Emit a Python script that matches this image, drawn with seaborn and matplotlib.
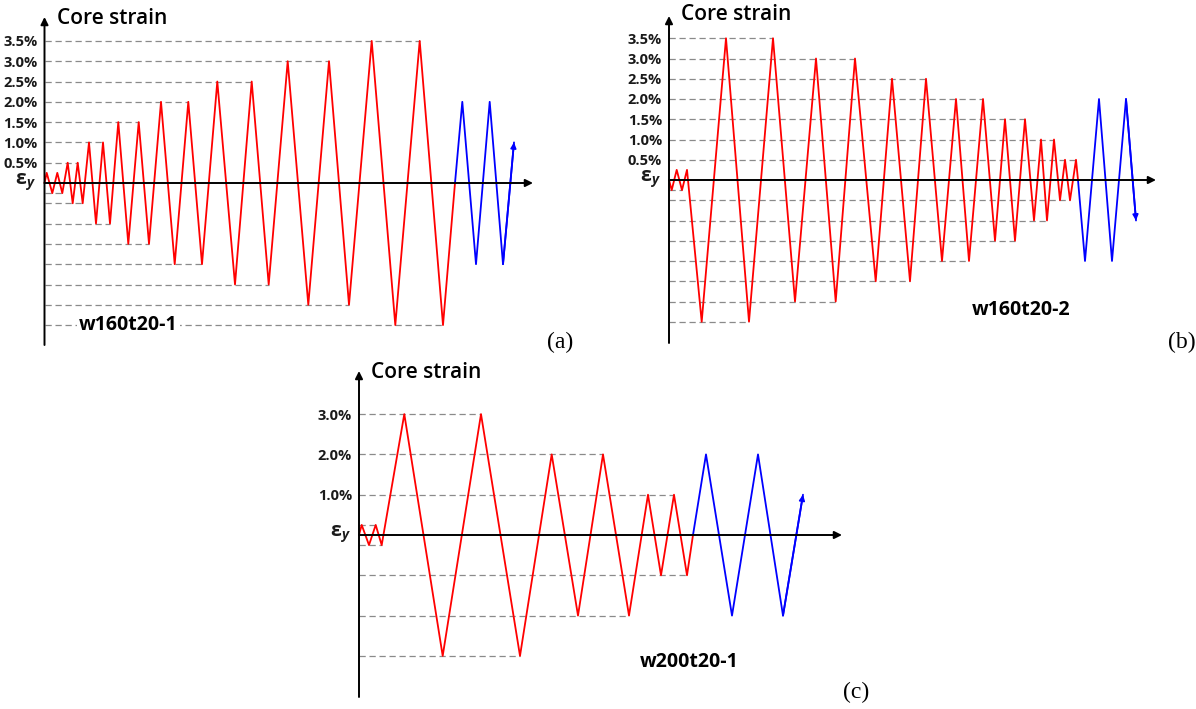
import matplotlib
matplotlib.use("Agg")
import matplotlib.pyplot as plt
import seaborn as sns

W, H = 1196, 709

# ---------------- data ----------------
# strain levels are in %, the yield-strain cycles are drawn at EPS_Y
EPS_Y = 0.25

# (a) w160t20-1
a_red_t = [0, 2.2, 7.8, 12.8, 17.8, 23.2, 28.2, 33.2, 38.2, 44.5, 51.5, 58.5, 65.5,
           73.8, 83.8, 94.2, 104.5, 116.5, 130.2, 143.8, 157.5, 172.8, 190.5, 207.2,
           224.2, 243.2, 263.8, 284.5, 304.5, 327.2, 350.8, 375.2, 398.5, 410.5]
a_red_s = [0, 0.25, -0.25, 0.25, -0.25, 0.5, -0.5, 0.5, -0.5, 1.0, -1.0, 1.0, -1.0,
           1.5, -1.5, 1.5, -1.5, 2.0, -2.0, 2.0, -2.0, 2.5, -2.5, 2.5, -2.5,
           3.0, -3.0, 3.0, -3.0, 3.5, -3.5, 3.5, -3.5, 0]
a_blue_t = [410.5, 417.8, 431.5, 445.2, 458.5, 469.5]
a_blue_s = [0, 2.0, -2.0, 2.0, -2.0, 1.0]

# (b) w160t20-2
b_red_t = [0, 2.7, 7.7, 13, 18, 32.7, 57, 80, 104, 126, 147, 166.7, 186, 206.7, 223,
           241, 257, 273, 287, 300, 314, 326, 336, 346, 356, 365, 372, 378, 385,
           391, 396, 401, 407, 409]
b_red_s = [0, -0.25, 0.25, -0.25, 0.25, -3.5, 3.5, -3.5, 3.5, -3.0, 3.0, -3.0, 3.0,
           -2.5, 2.5, -2.5, 2.5, -2.0, 2.0, -2.0, 2.0, -1.5, 1.5, -1.5, 1.5,
           -1.0, 1.0, -1.0, 1.0, -0.5, 0.5, -0.5, 0.5, 0]
b_blue_t = [409, 416, 430, 443, 457, 467]
b_blue_s = [0, -2.0, 2.0, -2.0, 2.0, -1.0]

# (c) w200t20-1
c_red_t = [0, 2.7, 10, 16.7, 22.7, 45.3, 83.7, 122, 161, 192.7, 219, 244, 270,
           289, 302, 315, 328, 334]
c_red_s = [0, 0.25, -0.25, 0.25, -0.25, 3.0, -3.0, 3.0, -3.0, 2.0, -2.0, 2.0, -2.0,
           1.0, -1.0, 1.0, -1.0, 0]
c_blue_t = [334, 347, 373, 399, 424, 444]
c_blue_s = [0, 2.0, -2.0, 2.0, -2.0, 1.0]

ab_ticks = [0.5, 1.0, 1.5, 2.0, 2.5, 3.0, 3.5]
ab_labels = ["0.5%", "1.0%", "1.5%", "2.0%", "2.5%", "3.0%", "3.5%"]
c_ticks = [1.0, 2.0, 3.0]
c_labels = ["1.0%", "2.0%", "3.0%"]

names = ["w160t20-1", "w160t20-2", "w200t20-1"]
tags = ["(a)", "(b)", "(c)"]
title = "Core strain"

# ---------------- style ----------------
sns.set_theme(style="white")
plt.rcParams["font.family"] = ["Open Sans", "DejaVu Sans"]
plt.rcParams["mathtext.fontset"] = "custom"
plt.rcParams["mathtext.rm"] = "Open Sans"
plt.rcParams["mathtext.it"] = "Open Sans:italic:bold"
plt.rcParams["mathtext.bf"] = "Open Sans:bold"

fig = plt.figure(figsize=(W / 100, H / 100), dpi=100)
fig.patch.set_facecolor("white")

layout = [
    dict(red=(a_red_t, a_red_s), blue=(a_blue_t, a_blue_s), ticks=ab_ticks, labels=ab_labels,
         pos_eps_dash=False, x0=44.5, xtip=533, top=17, bottom=345, zero=183, scale=40.6,
         title_xy=(57, 18), name_xy=(128.5, 325), tag_xy=(560, 342)),
    dict(red=(b_red_t, b_red_s), blue=(b_blue_t, b_blue_s), ticks=ab_ticks, labels=ab_labels,
         pos_eps_dash=False, x0=669, xtip=1156, top=16, bottom=343, zero=180, scale=40.5,
         title_xy=(681, 15), name_xy=(1021, 310), tag_xy=(1182, 342)),
    dict(red=(c_red_t, c_red_s), blue=(c_blue_t, c_blue_s), ticks=c_ticks, labels=c_labels,
         pos_eps_dash=True, x0=359, xtip=842, top=371, bottom=697, zero=535, scale=40.3,
         title_xy=(371, 372), name_xy=(689, 662), tag_xy=(856, 692)),
]

arrow_kw = dict(arrowstyle="-|>", color="black", lw=1.4, mutation_scale=11,
                shrinkA=0, shrinkB=0)

for i, p in enumerate(layout):
    rect = [p["x0"] / W, 1 - p["bottom"] / H, (p["xtip"] - p["x0"]) / W,
            (p["bottom"] - p["top"]) / H]
    ax = fig.add_axes(rect)
    ax.set_facecolor("none")
    ax.set_xlim(0, p["xtip"] - p["x0"])
    ax.set_ylim(-(p["bottom"] - p["zero"]) / p["scale"], (p["zero"] - p["top"]) / p["scale"])
    for sp in ax.spines.values():
        sp.set_visible(False)

    rt, rs = p["red"]
    bt, bs = p["blue"]

    # dashed reference levels: from the axis to the last red peak at that level
    levels = sorted(set(v for v in rs if v != 0))
    for lv in levels:
        if lv == EPS_Y and not p["pos_eps_dash"]:
            continue
        xmax = max(t for t, s in zip(rt, rs) if s == lv)
        ax.hlines(lv, 0, xmax, colors="#8a8a8a", linestyles=(0, (5, 3)), lw=0.9,
                  zorder=1, clip_on=False)

    sns.lineplot(x=rt, y=rs, sort=False, estimator=None, color="#ff0000", lw=1.3,
                 ax=ax, zorder=3)
    sns.lineplot(x=bt, y=bs, sort=False, estimator=None, color="#0000ff", lw=1.3,
                 ax=ax, zorder=3)
    for ln in ax.lines:
        ln.set_clip_on(False)
    # arrow head at the end of the blue history
    ax.annotate("", xy=(bt[-1], bs[-1]), xytext=(bt[-2], bs[-2]),
                arrowprops=dict(arrowstyle="-|>", color="#0000ff", lw=1.3,
                                mutation_scale=8, shrinkA=0, shrinkB=0),
                annotation_clip=False, zorder=4)

    # axes with arrows
    ax.annotate("", xy=(1, 0), xytext=(0, 0), xycoords=ax.get_yaxis_transform(),
                textcoords=ax.get_yaxis_transform(), arrowprops=arrow_kw,
                annotation_clip=False, zorder=5)
    ax.annotate("", xy=(0, 1), xytext=(0, 0), xycoords=ax.get_xaxis_transform(),
                textcoords=ax.get_xaxis_transform(), arrowprops=arrow_kw,
                annotation_clip=False, zorder=5)

    ax.set_xticks([])
    ax.set_yticks(p["ticks"])
    ax.set_yticklabels(p["labels"], fontsize=10.5, fontweight="bold", color="#1a1a1a")
    ax.tick_params(axis="y", length=0, pad=5)
    ax.set_xlabel("")
    ax.set_ylabel("")

    ax.annotate("ε$_y$", xy=(0, EPS_Y * 0.15), xytext=(-6, 0), textcoords="offset points",
                ha="right", va="center", fontsize=14, fontweight="bold",
                color="#1a1a1a", annotation_clip=False)

    tx, ty = p["title_xy"]
    fig.text(tx / W, 1 - ty / H, title, ha="left", va="center", fontsize=15,
             fontweight="semibold", color="black")
    nx, ny = p["name_xy"]
    fig.text(nx / W, 1 - ny / H, names[i], ha="center", va="center", fontsize=14,
             fontweight="bold", color="black", zorder=6,
             bbox=dict(facecolor="white", edgecolor="none", pad=1.5))
    gx, gy = p["tag_xy"]
    fig.text(gx / W, 1 - gy / H, tags[i], ha="center", va="center", fontsize=17,
             family="Liberation Serif", color="black")

fig.savefig("out.png", dpi=100, facecolor="white")
